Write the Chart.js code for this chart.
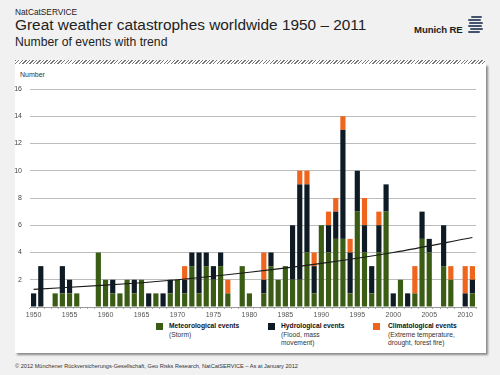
<!DOCTYPE html>
<html lang="en">
<head>
<meta charset="UTF-8">
<title>Great weather catastrophes worldwide 1950 – 2011</title>
<script src="https://cdn.jsdelivr.net/npm/chart.js"></script>
<style>
    html, body { margin: 0; padding: 0; }
    body { width: 500px; height: 375px; position: relative; overflow: hidden; background: #f1f1f1; font-family: "Liberation Sans", Arial, sans-serif; color: #222; }
    .abs { position: absolute; white-space: nowrap; }
    .kicker { left: 15px; top: 7px; font-size: 8.3px; }
    .title { left: 15px; top: 16px; font-size: 15.4px; }
    .subtitle { left: 15px; top: 35px; font-size: 12.2px; }
    .brand { left: 414px; top: 24px; font-size: 9.6px; font-weight: bold; letter-spacing: -0.1px; color: #1c1c1c; }
    .logo { left: 467px; top: 15px; width: 18px; height: 20px; z-index: 5; }
    .logo span { position: absolute; height: 2px; background: #44546c; border-radius: 1px; }
    .hatch { left: 15px; top: 60px; width: 470px; height: 4px; background: repeating-linear-gradient(135deg, #777 0 1px, #fff 1px 2.5px); }
    .panel { left: 15px; top: 64px; width: 471px; height: 289px; background: #fff; box-shadow: 2px 2px 2px #8a8a8a; }
    .ylabel { left: 20px; top: 71px; font-size: 7px; color: #333; }
    .leg { font-size: 6.7px; line-height: 8.5px; color: #333; }
    .leg b { color: #111; }
    .sw { width: 7px; height: 7px; }
    .footer { left: 15px; top: 363px; font-size: 5.6px; color: #333; }
    #chart { position: absolute; left: 0; top: 0; }
</style>
</head>
<body>
    <div class="abs kicker">NatCatSERVICE</div>
    <div class="abs title">Great weather catastrophes worldwide 1950 – 2011</div>
    <div class="abs subtitle">Number of events with trend</div>
    <div class="abs brand">Munich RE</div>
    <div class="abs logo">
        <span style="left:4px; top:1px; width:11px;"></span>
        <span style="left:1px; top:4px; width:13px;"></span>
        <span style="left:2px; top:7px; width:14px;"></span>
        <span style="left:1px; top:10px; width:14px;"></span>
        <span style="left:3px; top:13px; width:13px;"></span>
        <span style="left:1px; top:16px; width:12px;"></span>
    </div>
    <div class="abs hatch"></div>
    <div class="abs panel"></div>
    <div class="abs ylabel">Number</div>

    <div class="abs sw" style="left:156px; top:323px; background:#3a5c14;"></div>
    <div class="abs leg" style="left:169px; top:322px;"><b>Meteorological events</b><br>(Storm)</div>
    <div class="abs sw" style="left:268px; top:323px; background:#0e1b24;"></div>
    <div class="abs leg" style="left:281px; top:322px;"><b>Hydrological events</b><br>(Flood, mass<br>movement)</div>
    <div class="abs sw" style="left:373px; top:323px; background:#f0651e;"></div>
    <div class="abs leg" style="left:388px; top:322px;"><b>Climatological events</b><br>(Extreme temperature,<br>drought, forest fire)</div>

    <div class="abs footer">© 2012 Münchener Rückversicherungs-Gesellschaft, Geo Risks Research, NatCatSERVICE – As at January 2012</div>

    <canvas id="chart" width="500" height="375"></canvas>

<script>
    // years on the x axis
    const years = ['1950','1951','1952','1953','1954','1955','1956','1957','1958','1959',
                   '1960','1961','1962','1963','1964','1965','1966','1967','1968','1969',
                   '1970','1971','1972','1973','1974','1975','1976','1977','1978','1979',
                   '1980','1981','1982','1983','1984','1985','1986','1987','1988','1989',
                   '1990','1991','1992','1993','1994','1995','1996','1997','1998','1999',
                   '2000','2001','2002','2003','2004','2005','2006','2007','2008','2009',
                   '2010','2011'];
    const xTickLabels = ['1950','1955','1960','1965','1970','1975','1980','1985','1990','1995','2000','2005','2010'];
    const yTickValues = [0, 2, 4, 6, 8, 10, 12, 14, 16];

    // number of events per year
    const meteorological = [0,0,0,1,1,1,1,0,0,4, 2,1,1,2,1,2,0,1,0,1,
                            2,1,3,1,3,2,3,1,0,3, 1,0,1,3,2,3,2,2,4,1,
                            6,4,5,5,1,7,4,1,4,7, 0,2,0,1,5,4,0,3,2,0, 0,1];
    const hydrological   = [1,3,0,0,2,1,0,0,0,0, 0,1,0,0,1,0,1,0,1,1,
                            0,1,1,3,1,1,1,0,0,0, 0,0,1,1,0,0,4,7,5,2,
                            0,2,2,8,3,3,2,2,2,2, 1,0,1,0,2,1,0,3,0,0, 1,1];
    const climatological = [0,0,0,0,0,0,0,0,0,0, 0,0,0,0,0,0,0,0,0,0,
                            0,1,0,0,0,0,0,1,0,0, 0,0,2,0,0,0,0,1,1,1,
                            0,1,1,1,1,0,2,0,1,0, 0,0,0,2,0,0,0,0,1,0, 2,1];

    // trend curve, read at a few years (gaps are spanned)
    const trend = [1.3,null,null,null,null,null,null,null,null,null,
                   1.6,null,null,null,null,null,null,null,null,null,
                   2.0,null,null,null,null,null,null,null,null,null,
                   2.55,null,null,null,null,null,null,null,null,null,
                   3.2,null,null,null,null,null,null,null,null,null,
                   4.0,null,null,null,null,null,null,null,null,null,
                   null,5.1];

    const barStyle = { stack: 'events', order: 1, barPercentage: 0.72, categoryPercentage: 1 };

    new Chart(document.getElementById('chart'), {
        type: 'bar',
        data: {
            labels: years,
            datasets: [
                { label: 'Meteorological events', data: meteorological, backgroundColor: '#3a5c14', ...barStyle },
                { label: 'Hydrological events', data: hydrological, backgroundColor: '#0e1b24', ...barStyle },
                { label: 'Climatological events', data: climatological, backgroundColor: '#f0651e', ...barStyle },
                { type: 'line', label: 'Trend', data: trend, stack: 'trend', order: 0, spanGaps: true,
                  borderColor: '#1a1a1a', borderWidth: 1.2, pointRadius: 0, cubicInterpolationMode: 'monotone', fill: false }
            ]
        },
        options: {
            responsive: false,
            animation: false,
            layout: { padding: { left: 14, right: 24, top: 89, bottom: 54 } },
            plugins: { legend: { display: false }, tooltip: { enabled: false } },
            scales: {
                x: {
                    stacked: true,
                    offset: true,
                    afterFit: s => { s.height = 14; },
                    grid: { drawOnChartArea: false, drawTicks: true, tickLength: 2, color: '#aaa', offset: true },
                    border: { color: '#999' },
                    ticks: {
                        autoSkip: false, maxRotation: 0, padding: 2,
                        color: '#555', font: { family: 'Liberation Sans', size: 7 },
                        callback: function (v) { const l = this.getLabelForValue(v); return xTickLabels.includes(l) ? l : ''; }
                    }
                },
                y: {
                    stacked: true,
                    min: 0, max: 16,
                    afterFit: s => { s.width = 16; },
                    afterBuildTicks: s => { s.ticks = yTickValues.map(v => ({ value: v })); },
                    grid: { color: '#bcbcbc', lineWidth: 1, drawTicks: false },
                    border: { display: false },
                    ticks: {
                        padding: 8, color: '#444', font: { family: 'Liberation Sans', size: 7 },
                        callback: v => v === 0 ? '' : v
                    }
                }
            }
        }
    });
</script>
</body>
</html>
